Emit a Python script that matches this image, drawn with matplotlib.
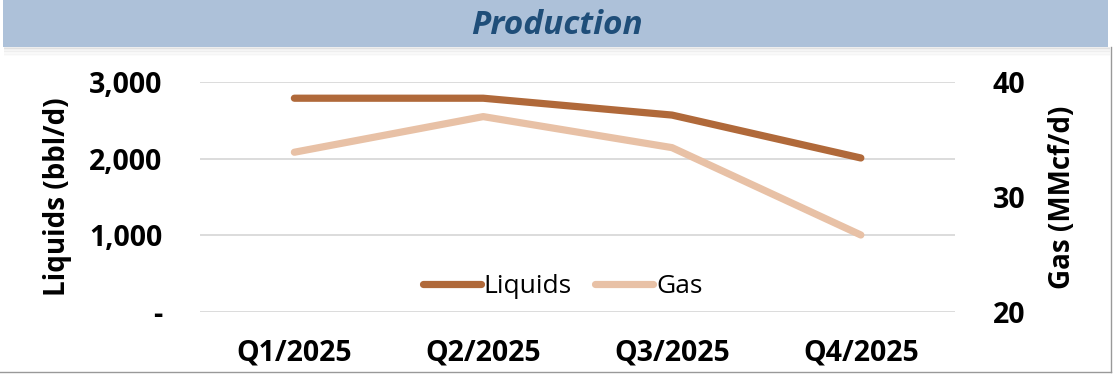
import matplotlib
matplotlib.use("Agg")
import matplotlib.pyplot as plt
from matplotlib.patches import Rectangle
from matplotlib.ticker import FuncFormatter, FixedLocator

quarters = ["Q1/2025", "Q2/2025", "Q3/2025", "Q4/2025"]
liquids = [2790, 2790, 2570, 2010]   # bbl/d
gas = [33.9, 37.0, 34.3, 26.7]       # MMcf/d

COL_LIQ = "#b0693a"
COL_GAS = "#e8c1a6"
BANNER = "#adc1d9"
TITLE_COL = "#1f4e79"
FONT = "Open Sans"

plt.rcParams.update({"font.family": FONT})

fig = plt.figure(figsize=(11.14, 3.75), dpi=100)

# title banner with soft shadow underneath
for i, a in enumerate([0.10, 0.08, 0.06, 0.04, 0.03, 0.02]):
    fig.patches.append(Rectangle((0.004, 0.874 - 0.004 * (i + 1)), 0.992, 0.006,
                                 transform=fig.transFigure, color="#555555",
                                 alpha=a, lw=0, zorder=0))
fig.patches.append(Rectangle((0.003, 0.875), 0.992, 0.125, transform=fig.transFigure,
                             facecolor=BANNER, edgecolor="none", zorder=1))
fig.text(0.5, 0.933, "Production", ha="center", va="center", fontsize=24,
         fontweight="bold", fontstyle="italic", color=TITLE_COL)

# thin outer frame (right and bottom)
fig.add_artist(plt.Line2D([0.997, 0.997], [0.008, 0.875], transform=fig.transFigure,
                          color="#999999", lw=1))
fig.add_artist(plt.Line2D([0.0, 0.997], [0.008, 0.008], transform=fig.transFigure,
                          color="#999999", lw=1))

ax = fig.add_axes([0.1795, 0.168, 0.678, 0.613])
ax2 = ax.twinx()
x = list(range(len(quarters)))

ax.plot(x, liquids, color=COL_LIQ, lw=5.2, solid_capstyle="round", label="Liquids", zorder=3)
ax2.plot(x, gas, color=COL_GAS, lw=5.2, solid_capstyle="round", label="Gas", zorder=2)

ax.set_xlim(-0.5, 3.5)
ax.set_ylim(0, 3000)
ax2.set_ylim(20, 40)
ax.yaxis.set_major_locator(FixedLocator([0, 1000, 2000, 3000]))
ax2.yaxis.set_major_locator(FixedLocator([20, 30, 40]))
ax.yaxis.set_major_formatter(FuncFormatter(lambda v, p: "-" if v == 0 else f"{v:,.0f}"))

ax.set_xticks(x)
ax.set_xticklabels(quarters)
ax.grid(axis="y", color="#d9d9d9", lw=1.3)
ax.set_axisbelow(True)
for a in (ax, ax2):
    for s in a.spines.values():
        s.set_visible(False)
    a.tick_params(length=0, labelsize=20.5)
    for lab in a.get_xticklabels() + a.get_yticklabels():
        lab.set_fontweight("bold")
ax.tick_params(axis="y", pad=27)
ax2.tick_params(axis="y", pad=27)
ax.tick_params(axis="x", pad=19)

ax.set_ylabel("Liquids (bbl/d)", fontsize=20, fontweight="bold", labelpad=12)
ax2.set_ylabel("Gas (MMcf/d)", fontsize=20, fontweight="bold", labelpad=16, rotation=90)

h1, l1 = ax.get_legend_handles_labels()
h2, l2 = ax2.get_legend_handles_labels()
ax.legend(h1 + h2, l1 + l2, loc="center", bbox_to_anchor=(0.48, 0.11), ncol=2,
          frameon=False, fontsize=19, handlelength=2.2, handletextpad=0.1,
          columnspacing=0.9)

fig.savefig("out.png", dpi=100)
